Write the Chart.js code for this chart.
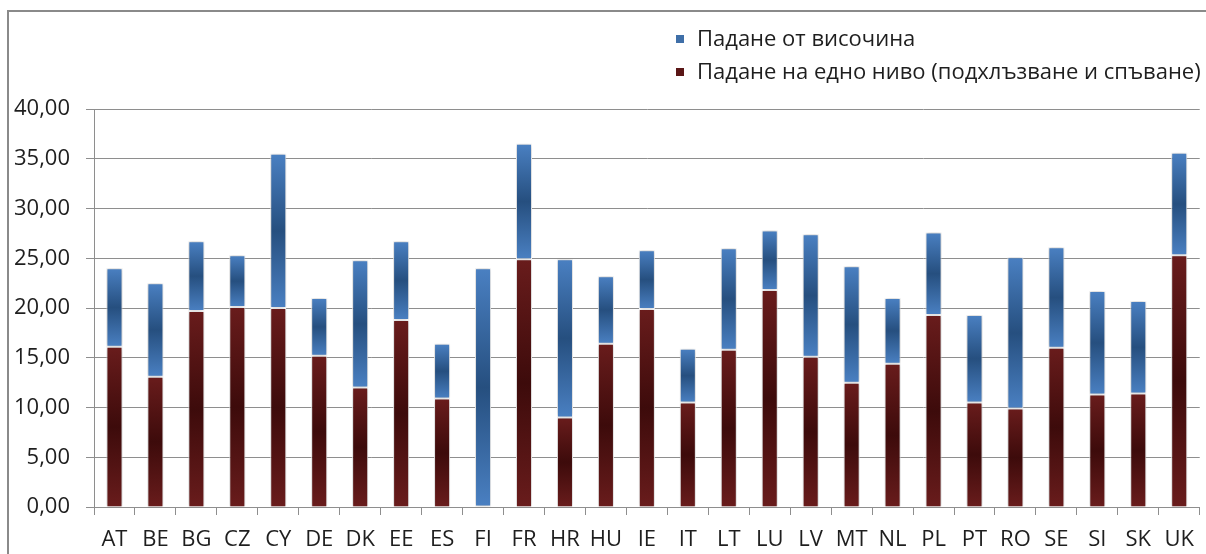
<!DOCTYPE html>
<html>
<head>
<meta charset="utf-8">
<script src="https://cdn.jsdelivr.net/npm/chart.js@4.4.1/dist/chart.umd.min.js"></script>
<style>
  html, body { margin: 0; padding: 0; background: #ffffff; overflow: hidden; }
  #wrap { position: relative; width: 1206px; height: 554px; overflow: hidden; }
  #frame { position: absolute; left: 7px; top: 10px; width: 1300px; height: 700px;
           border-left: 2px solid #8a8a8a; border-top: 2px solid #8a8a8a; }
  #cv { position: absolute; left: 0; top: 0; }
  .leg { position: absolute; left: 676px; font-family: "Open Sans", sans-serif; font-size: 22px;
         line-height: 24px; color: #1e1e1e; white-space: nowrap; }
  .leg i { display: inline-block; width: 8px; height: 8px; margin-right: 13px; vertical-align: 3px; }
</style>
</head>
<body>
<div id="wrap">
  <div id="frame"></div>
  <canvas id="cv" width="1206" height="554"></canvas>
  <div class="leg" id="leg1" style="top:25px"><i style="background:#3f6fa8"></i><span></span></div>
  <div class="leg" id="leg2" style="top:58px"><i style="background:#5a1616"></i><span></span></div>
</div>
<script>
const categories = ['AT','BE','BG','CZ','CY','DE','DK','EE','ES','FI','FR','HR','HU','IE','IT','LT','LU','LV','MT','NL','PL','PT','RO','SE','SI','SK','UK'];
const sameLevelLabel = 'Падане на едно ниво (подхлъзване и спъване)';
const fromHeightLabel = 'Падане от височина';
const sameLevel = [16.1,13.1,19.7,20.1,20.0,15.2,12.0,18.8,10.9,0.0,24.9,9.0,16.4,19.9,10.5,15.8,21.8,15.1,12.5,14.4,19.3,10.5,9.9,16.0,11.3,11.4,25.3];
const fromHeight = [7.9,9.4,7.0,5.2,15.5,5.8,12.8,7.9,5.5,24.0,11.6,15.9,6.8,5.9,5.4,10.2,6.0,12.3,11.7,6.6,8.3,8.8,15.2,10.1,10.4,9.3,10.3];
const yTickValues = [0,5,10,15,20,25,30,35,40];

document.querySelector('#leg1 span').textContent = fromHeightLabel;
document.querySelector('#leg2 span').textContent = sameLevelLabel;

function grad(ctx, light, dark) {
  if (ctx.type !== 'data') return light;
  const chart = ctx.chart;
  const y = chart.scales && chart.scales.y;
  if (!y || !chart.chartArea) return light;
  const di = ctx.datasetIndex, i = ctx.dataIndex;
  let start = 0;
  for (let d = 0; d < di; d++) start += chart.data.datasets[d].data[i];
  const end = start + chart.data.datasets[di].data[i];
  const top = y.getPixelForValue(end), bot = y.getPixelForValue(start);
  if (!(bot - top > 0.5) || !isFinite(top) || !isFinite(bot)) return light;
  const g = chart.ctx.createLinearGradient(0, top, 0, bot);
  g.addColorStop(0, light);
  g.addColorStop(0.5, dark);
  g.addColorStop(1, light);
  return g;
}

const shadowPlugin = {
  id: 'barShadow',
  beforeDatasetsDraw(chart) {
    const c = chart.ctx;
    c.save();
    c.shadowColor = 'rgba(0,0,0,0.28)';
    c.shadowBlur = 4;
    c.shadowOffsetX = 0;
    c.shadowOffsetY = 0;
  },
  afterDatasetsDraw(chart) { chart.ctx.restore(); }
};

const gridColor = '#8e8e8e';
const font = { family: '"Open Sans", sans-serif', size: 22 };

new Chart(document.getElementById('cv'), {
  type: 'bar',
  data: {
    labels: categories,
    datasets: [
      {
        label: sameLevelLabel,
        data: sameLevel,
        backgroundColor: (c) => grad(c, '#691c1c', '#3d0b0b'),
        borderColor: '#ffffff',
        borderWidth: 1,
        borderSkipped: 'start',
        barPercentage: 0.49,
        categoryPercentage: 0.8
      },
      {
        label: fromHeightLabel,
        data: fromHeight,
        backgroundColor: (c) => grad(c, '#4a80c2', '#264f7f'),
        borderColor: '#ffffff',
        borderWidth: 1,
        borderSkipped: false,
        barPercentage: 0.49,
        categoryPercentage: 0.8
      }
    ]
  },
  options: {
    responsive: false,
    animation: false,
    layout: { padding: { left: 0, right: 0, top: 109, bottom: 0 } },
    plugins: { legend: { display: false }, tooltip: { enabled: false } },
    scales: {
      x: {
        stacked: true,
        offset: true,
        grid: { offset: true, drawOnChartArea: false, drawTicks: true, tickLength: 8, color: gridColor },
        border: { display: true, color: gridColor, width: 1 },
        ticks: { color: '#1e1e1e', font: font, padding: 12, maxRotation: 0, autoSkip: false },
        afterFit(s) { s.height = 47; }
      },
      y: {
        stacked: true,
        min: 0,
        max: 40,
        afterBuildTicks(s) { s.ticks = yTickValues.map(v => ({ value: v })); },
        grid: { color: gridColor, tickLength: 8, drawTicks: true },
        border: { display: true, color: gridColor, width: 1 },
        ticks: {
          color: '#1e1e1e', font: font, padding: 16,
          callback: (v) => Number(v).toFixed(2).replace('.', ',')
        },
        afterFit(s) { s.width = 94; }
      }
    }
  },
  plugins: [shadowPlugin]
});
</script>
</body>
</html>
